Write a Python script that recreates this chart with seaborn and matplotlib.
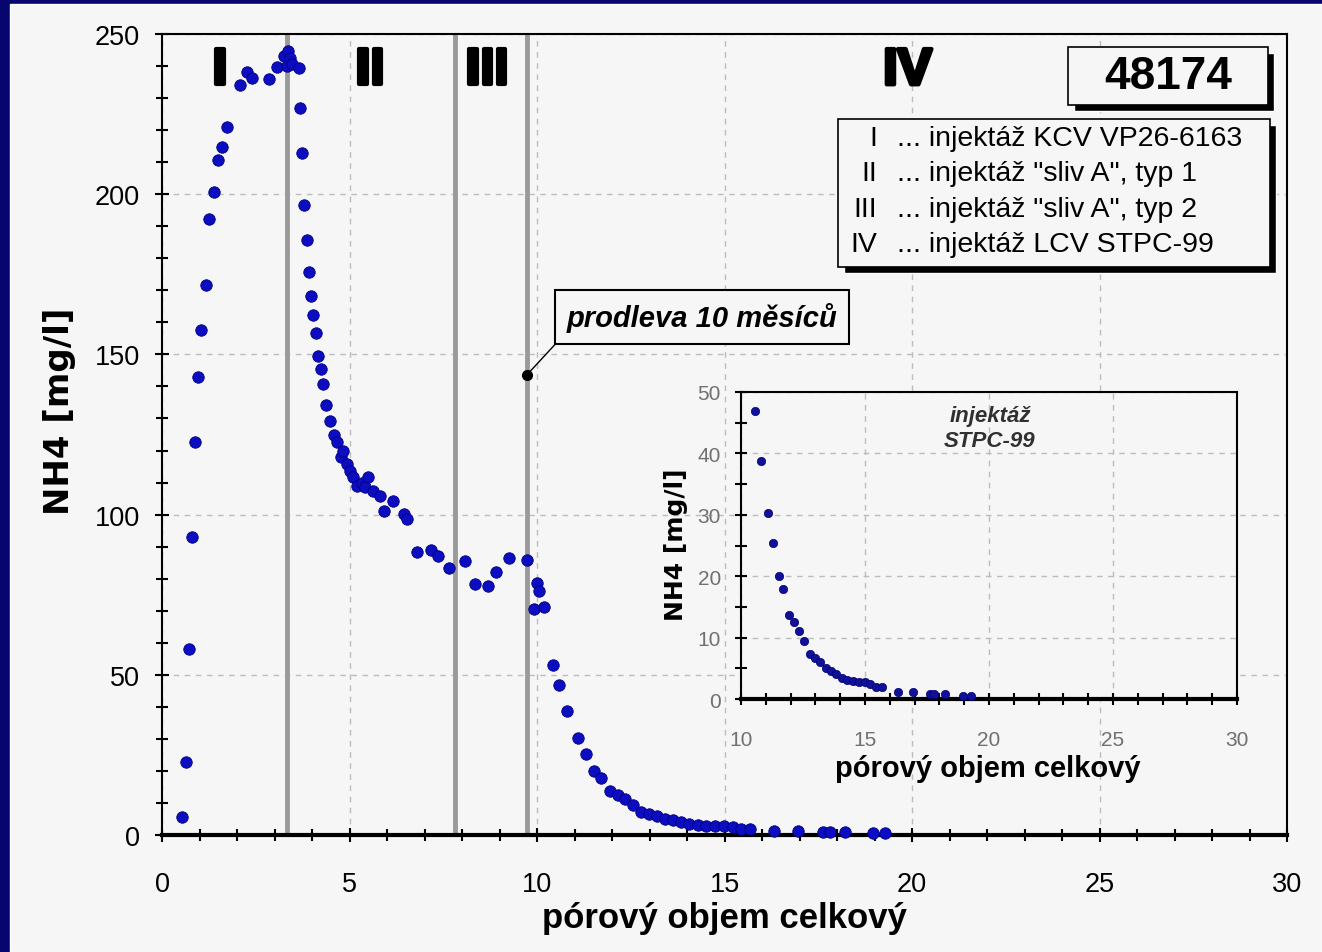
import numpy as np
import pandas as pd
import seaborn as sns
import matplotlib.pyplot as plt
import matplotlib.patheffects as pe
from matplotlib.patches import Rectangle
from matplotlib.ticker import MultipleLocator

# pore volume vs. NH4, read per injection phase
pv_phase1 = [0.52, 0.64, 0.72, 0.80, 0.88, 0.97, 1.04, 1.16, 1.26, 1.39, 1.50, 1.59,
             1.72, 2.08, 2.26, 2.39, 2.84, 3.06, 3.24, 3.32, 3.37, 3.42, 3.46, 3.64]
nh4_phase1 = [5.7, 22.8, 58.0, 93.0, 122.7, 143.0, 157.7, 171.8, 192.3, 200.8, 210.7, 214.6,
              221.1, 234.0, 238.0, 236.4, 236.1, 239.6, 243.2, 240.1, 244.8, 242.5, 240.5, 239.3]

pv_phase23 = [3.68, 3.73, 3.79, 3.86, 3.93, 3.97, 4.03, 4.11, 4.16, 4.23, 4.29, 4.37, 4.48,
              4.59, 4.67, 4.77, 4.83, 4.92, 5.01, 5.10, 5.19, 5.32, 5.41, 5.50, 5.63, 5.81,
              5.92, 6.17, 6.44, 6.52, 6.79, 7.17, 7.37, 7.66, 8.08, 8.35, 8.70, 8.91, 9.24,
              9.72, 9.92, 9.99, 10.06, 10.19]
nh4_phase23 = [226.8, 213.0, 196.6, 185.7, 175.7, 168.2, 162.3, 156.7, 149.6, 145.4, 140.8,
               134.2, 129.2, 124.8, 122.7, 117.9, 119.9, 115.8, 113.7, 111.6, 109.0, 110.0,
               108.5, 111.6, 107.4, 105.9, 101.2, 104.3, 100.2, 98.6, 88.4, 89.0, 87.1, 83.2,
               85.6, 78.3, 77.8, 82.2, 86.3, 85.9, 70.5, 78.7, 76.2, 71.3]

pv_phase4 = [10.42, 10.58, 10.80, 11.10, 11.30, 11.52, 11.70, 11.95, 12.15, 12.35, 12.55,
             12.78, 12.98, 13.20, 13.42, 13.62, 13.84, 14.06, 14.28, 14.50, 14.74, 14.98,
             15.22, 15.45, 15.68, 16.32, 16.95, 17.62, 17.80, 18.22, 18.95, 19.28]
nh4_phase4 = [53.1, 46.9, 38.7, 30.3, 25.4, 20.0, 17.9, 13.6, 12.5, 11.1, 9.4, 7.3, 6.7,
              6.0, 5.0, 4.6, 4.0, 3.5, 3.1, 2.9, 2.8, 2.7, 2.4, 2.0, 1.9, 1.2, 1.2, 0.8,
              0.8, 0.8, 0.5, 0.5]

phase_bounds = [3.33, 7.8, 9.73]
phase_names = ['I', 'II', 'III', 'IV']
phase_name_x = [1.55, 5.55, 8.67, 19.88]
legend_roman = ['I', 'II', 'III', 'IV']
legend_desc = ['... injektáž KCV VP26-6163', '... injektáž "sliv A", typ 1',
               '... injektáž "sliv A", typ 2', '... injektáž LCV STPC-99']
well_id = '48174'
pause_x, pause_y = 9.73, 143.6

NAVY = '#06066e'
PANEL = '#f6f6f6'
DOT = '#0c0cc0'
W, H = 1322, 953

sns.set_style('white')
plt.rcParams['font.family'] = ['Liberation Sans', 'DejaVu Sans']
plt.rcParams['text.color'] = 'black'
plt.rcParams['axes.labelcolor'] = 'black'
plt.rcParams['xtick.color'] = 'black'
plt.rcParams['ytick.color'] = 'black'

df = pd.DataFrame({
    'pv': pv_phase1 + pv_phase23 + pv_phase4,
    'nh4': nh4_phase1 + nh4_phase23 + nh4_phase4,
})
df_inset = pd.DataFrame({'pv': pv_phase4, 'nh4': nh4_phase4})
df_inset = df_inset[df_inset['nh4'] <= 50]


def fx(x):
    return x / W


def fy(y):
    return 1 - y / H


def shadow_box(x0, y0, x1, y1, off=6):
    fig.patches.append(Rectangle((fx(x0 + off), fy(y1 + off)), (x1 - x0) / W, (y1 - y0) / H,
                                 transform=fig.transFigure, facecolor='black', zorder=5))
    fig.patches.append(Rectangle((fx(x0), fy(y1)), (x1 - x0) / W, (y1 - y0) / H,
                                 transform=fig.transFigure, facecolor=PANEL, edgecolor='black',
                                 lw=1.2, zorder=6))


def style_axes(a, xmaj, xmin, ymaj, ymin):
    a.set_facecolor(PANEL)
    a.xaxis.set_major_locator(MultipleLocator(xmaj))
    a.xaxis.set_minor_locator(MultipleLocator(xmin))
    a.yaxis.set_major_locator(MultipleLocator(ymaj))
    a.yaxis.set_minor_locator(MultipleLocator(ymin))
    a.set_axisbelow(True)
    a.grid(True, which='major', ls=(0, (4, 4)), color='#bcbcbc', lw=1)
    a.tick_params(which='both', direction='inout', color='black', width=1.5,
                  bottom=True, left=True)
    a.tick_params(which='major', length=10)
    a.tick_params(which='minor', length=9)
    for s in a.spines.values():
        s.set_color('black')
        s.set_linewidth(1.5)
    a.spines['bottom'].set_linewidth(3)


fig = plt.figure(figsize=(W / 100, H / 100), dpi=100, facecolor=NAVY)
fig.patches.append(Rectangle((fx(10), 0), 1 - fx(10), fy(5), transform=fig.transFigure,
                             facecolor=PANEL, zorder=-10))

# main chart
ax = fig.add_axes([fx(162), fy(836), (1287 - 162) / W, (836 - 35) / H])
sns.scatterplot(data=df, x='pv', y='nh4', ax=ax, color=DOT, s=68, edgecolor='#000080',
                linewidth=0.6, legend=False, zorder=4, clip_on=False)
ax.set_xlim(0, 30)
ax.set_ylim(0, 250)
style_axes(ax, 5, 1, 50, 10)
ax.tick_params(axis='x', labelsize=19.5, pad=21)
ax.tick_params(axis='y', labelsize=19.5, pad=11)

for b in phase_bounds:
    ax.axvline(b, color='#9a9a9a', lw=3.5, zorder=2)

for name, x in zip(phase_names, phase_name_x):
    ax.text(x, 238.5, name, fontsize=37, fontweight='bold', color='black',
            ha='center', va='center',
            path_effects=[pe.withStroke(linewidth=3, foreground='black')], zorder=5)

ax.set_xlabel('pórový objem celkový', fontsize=25, fontweight='bold', va='top')
ax.xaxis.set_label_coords(0.5, -0.083)
ax.set_ylabel('NH4 [mg/l]', fontsize=24.5, fontweight='bold', family='DejaVu Sans',
              va='bottom')
ax.yaxis.set_label_coords(-0.076, 0.53)

ax.plot([pause_x], [pause_y], 'o', color='black', ms=7, zorder=6)
ax.annotate('prodleva 10 měsíců', xy=(pause_x, pause_y), xytext=(14.4, 161.7),
            ha='center', va='center', fontsize=21, fontweight='bold', fontstyle='italic',
            bbox=dict(boxstyle='square,pad=0.4', fc=PANEL, ec='black', lw=1.5),
            arrowprops=dict(arrowstyle='-', color='black', lw=1, relpos=(0, 0),
                            shrinkA=0, shrinkB=0), zorder=6)

# well id box and legend box
shadow_box(1068, 48, 1268, 106, off=6)
fig.text(fx(1168), fy(77), well_id, fontsize=33, fontweight='bold', ha='center', va='center',
         zorder=7)
shadow_box(838, 120, 1270, 268, off=6)
for i, (r, d) in enumerate(zip(legend_roman, legend_desc)):
    yy = 139 + i * 35.3
    fig.text(fx(877), fy(yy), r, fontsize=20.5, ha='right', va='center', zorder=7)
    fig.text(fx(897), fy(yy), d, fontsize=20.5, ha='left', va='center', zorder=7)

# inset: phase IV only
axin = fig.add_axes([fx(741), fy(700), (1237 - 741) / W, (700 - 393) / H])
sns.scatterplot(data=df_inset, x='pv', y='nh4', ax=axin, color='#10109a', s=36,
                edgecolor='#000070', linewidth=0.5, legend=False, zorder=4, clip_on=False)
axin.set_xlim(10, 30)
axin.set_ylim(0, 50)
style_axes(axin, 5, 1, 10, 5)
axin.tick_params(which='major', length=9)
axin.tick_params(which='minor', length=9)
axin.tick_params(axis='both', labelsize=15, labelcolor='#707070')
axin.tick_params(axis='x', pad=18)
axin.tick_params(axis='y', pad=10)
axin.set_xlabel('pórový objem celkový', fontsize=21, fontweight='bold', va='top')
axin.xaxis.set_label_coords(0.498, -0.18)
axin.set_ylabel('NH4 [mg/l]', fontsize=18, fontweight='bold', family='DejaVu Sans',
                va='bottom')
axin.yaxis.set_label_coords(-0.107, 0.505)
axin.text(0.502, 0.883, 'injektáž\nSTPC-99', transform=axin.transAxes, fontsize=16,
          fontstyle='italic', fontweight='bold', color='#303030', ha='center', va='center',
          linespacing=1.3)

fig.savefig('out.png', dpi=100, facecolor=NAVY)
